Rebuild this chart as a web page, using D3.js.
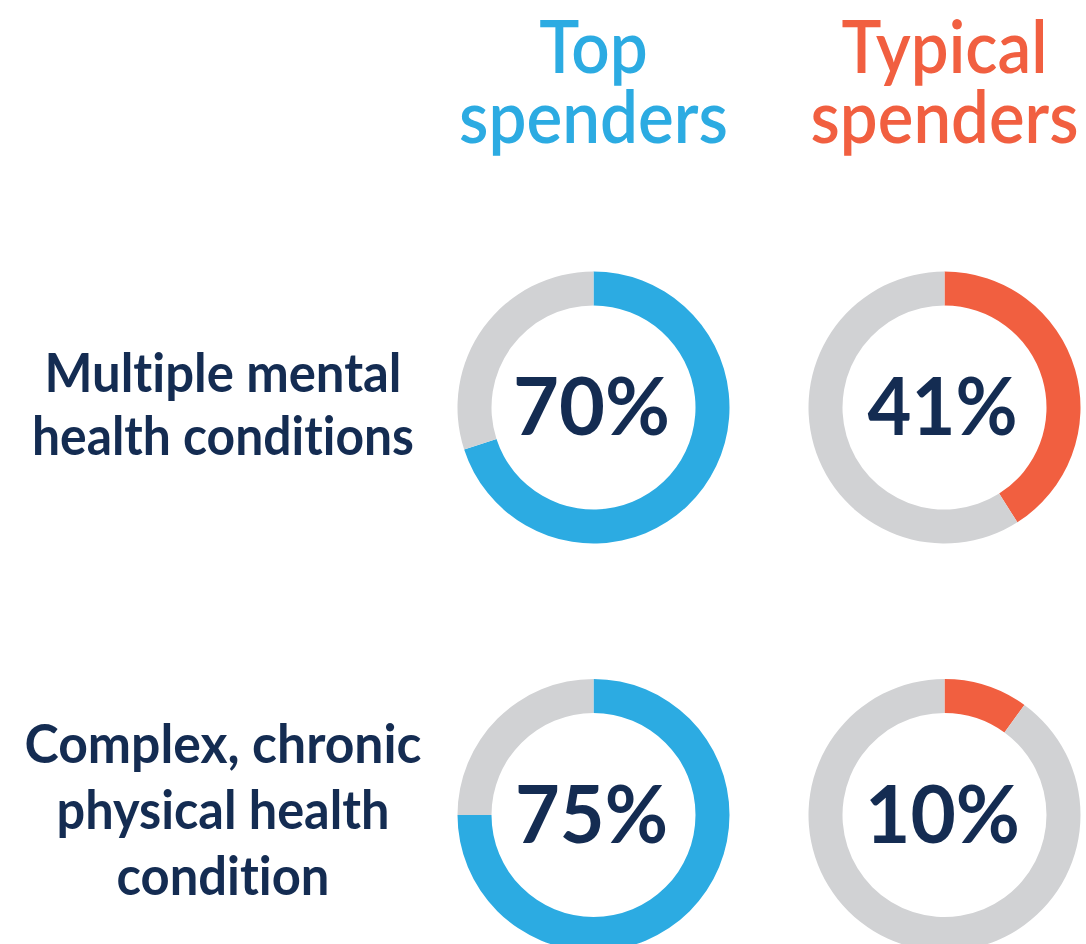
<!DOCTYPE html>
<html>
<head>
<meta charset="utf-8">
<script src="https://cdn.jsdelivr.net/npm/d3@7"></script>
<style>
  html, body { margin: 0; padding: 0; background: #ffffff; }
  svg { display: block; }
  text { font-family: Lato, "Open Sans", sans-serif; font-variant-ligatures: none; font-feature-settings: "liga" 0, "clig" 0; }
</style>
</head>
<body>
<script>
// ---- Data ----
const groups = ["Top spenders", "Typical spenders"];
const groupLines = [["Top", "spenders"], ["Typical", "spenders"]];
const conditions = ["Multiple mental health conditions", "Complex, chronic physical health condition"];
const conditionLines = [["Multiple mental", "health conditions"], ["Complex, chronic", "physical health", "condition"]];
const topValues = [70, 75];
const typicalValues = [41, 10];

// ---- Layout / style ----
const W = 1086, H = 944;
const colors = { "Top spenders": "#2cabe2", "Typical spenders": "#f15f40" };
const grey = "#d1d2d4";
const navy = "#142c52";
const outerR = 136, innerR = 102;

// target widths (px) used to match the condensed display font
const headerWidth = [269, 268];          // widest line of each header
const labelWidths = [[357, 382], [397, 333, 213]];
const pctWidths = [[157, 150], [153, 155]];

const svg = d3.select("body").append("svg").attr("width", W).attr("height", H);

const x = d3.scalePoint().domain(groups).range([593.5, 944.5]);
const y = d3.scalePoint().domain(conditions).range([407.5, 815]);

const pie = d3.pie().sort(null).value(d => d);
const arc = d3.arc().innerRadius(innerR).outerRadius(outerR);

// Headers: one text per column, lines as tspans, horizontally condensed
groups.forEach((g, gi) => {
  const gEl = svg.append("g").attr("transform", `translate(${x(g)},0)`);
  const t = gEl.append("text")
    .attr("text-anchor", "middle")
    .attr("fill", colors[g])
    .attr("font-size", 74)
    .attr("font-weight", 600);
  groupLines[gi].forEach((line, li) => {
    t.append("tspan").attr("x", 0).attr("y", 73 + li * 70).text(line);
  });
  const natural = t.node().getBBox().width;
  t.attr("transform", `scale(${headerWidth[gi] / natural},1)`);
});

// Row labels
const labelBaselines = [[392, 455], [763, 829, 895]];
conditions.forEach((c, ci) => {
  const t = svg.append("text")
    .attr("text-anchor", "middle")
    .attr("fill", navy)
    .attr("font-size", 54)
    .attr("font-weight", 700);
  conditionLines[ci].forEach((line, li) => {
    t.append("tspan")
      .attr("x", 223)
      .attr("y", labelBaselines[ci][li])
      .attr("textLength", labelWidths[ci][li])
      .attr("lengthAdjust", "spacingAndGlyphs")
      .text(line);
  });
});

// Donuts
const valuesByGroup = [topValues, typicalValues];
groups.forEach((g, gi) => {
  conditions.forEach((c, ci) => {
    const v = valuesByGroup[gi][ci];
    const gEl = svg.append("g").attr("transform", `translate(${x(g)},${y(c)})`);
    gEl.selectAll("path")
      .data(pie([v, 100 - v]))
      .join("path")
      .attr("d", arc)
      .attr("fill", (d, i) => i === 0 ? colors[g] : grey);
    gEl.append("text")
      .attr("x", -2)
      .attr("y", 27.5)
      .attr("text-anchor", "middle")
      .attr("fill", navy)
      .attr("font-size", 80)
      .attr("font-weight", 700)
      .attr("textLength", pctWidths[ci][gi])
      .attr("lengthAdjust", "spacingAndGlyphs")
      .text(v + "%");
  });
});
</script>
</body>
</html>
